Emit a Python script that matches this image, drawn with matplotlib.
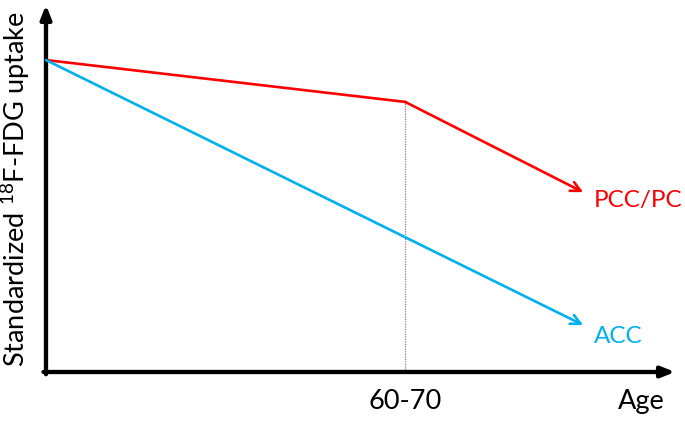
import matplotlib.pyplot as plt
import matplotlib as mpl

plt.rcParams['font.family'] = ['Lato', 'DejaVu Sans']
plt.rcParams['mathtext.fontset'] = 'custom'
plt.rcParams['mathtext.rm'] = 'Lato'
plt.rcParams['mathtext.it'] = 'Lato:italic'

# schematic data (axis fractions)
age_pcc = [0.0, 0.571, 0.854]
uptake_pcc = [0.850, 0.736, 0.490]
age_acc = [0.0, 0.854]
uptake_acc = [0.850, 0.128]
age_break = 0.571
break_label = '60-70'

red = '#FF0000'
blue = '#00B0F0'

fig = plt.figure(figsize=(6.85, 4.23), dpi=100)
ax = fig.add_axes([46/685, 51/423, 629/685, 367/423])
ax.set_xlim(0, 1)
ax.set_ylim(0, 1)
for s in ax.spines.values():
    s.set_visible(False)
ax.set_xticks([])
ax.set_yticks([])

# axis arrows
ax.annotate('', xy=(1, 0), xytext=(-0.004, 0), xycoords='axes fraction',
            arrowprops=dict(arrowstyle='-|>,head_length=0.8,head_width=0.32', lw=3.1, color='black',
                            shrinkA=0, shrinkB=0), annotation_clip=False)
ax.annotate('', xy=(0, 1), xytext=(0, -0.006), xycoords='axes fraction',
            arrowprops=dict(arrowstyle='-|>,head_length=0.8,head_width=0.32', lw=3.1, color='black',
                            shrinkA=0, shrinkB=0), annotation_clip=False)

# dotted drop line
ax.plot([age_break, age_break], [0, uptake_pcc[1]], color='#808080', lw=0.9, ls=(0, (1, 1)))

# red line
ax.plot(age_pcc[:-1], uptake_pcc[:-1], color=red, lw=1.9, solid_capstyle='round')
ax.annotate('', xy=(age_pcc[-1], uptake_pcc[-1]), xytext=(age_pcc[-2], uptake_pcc[-2]),
            arrowprops=dict(arrowstyle='->,head_length=0.7,head_width=0.35', lw=1.9, color=red,
                            shrinkA=0, shrinkB=0))
# blue line
ax.annotate('', xy=(age_acc[-1], uptake_acc[-1]), xytext=(age_acc[0], uptake_acc[0]),
            arrowprops=dict(arrowstyle='->,head_length=0.7,head_width=0.35', lw=1.9, color=blue,
                            shrinkA=0, shrinkB=0))

ax.text(age_pcc[-1] + 0.017, uptake_pcc[-1] - 0.022, 'PCC/PC', color=red, fontsize=17.5,
        ha='left', va='center')
ax.text(age_acc[-1] + 0.017, uptake_acc[-1] - 0.03, 'ACC', color=blue, fontsize=17.5,
        ha='left', va='center')

ax.text(age_break, -0.045, break_label, fontsize=19.5, ha='center', va='top')
ax.text(0.946, -0.045, 'Age', fontsize=19.5, ha='center', va='top')
fig.text(16/685, 0.553, r'Standardized $^{18}$F-FDG uptake', fontsize=19.5, rotation=90,
         ha='center', va='center')

fig.savefig('out.png', dpi=100)
